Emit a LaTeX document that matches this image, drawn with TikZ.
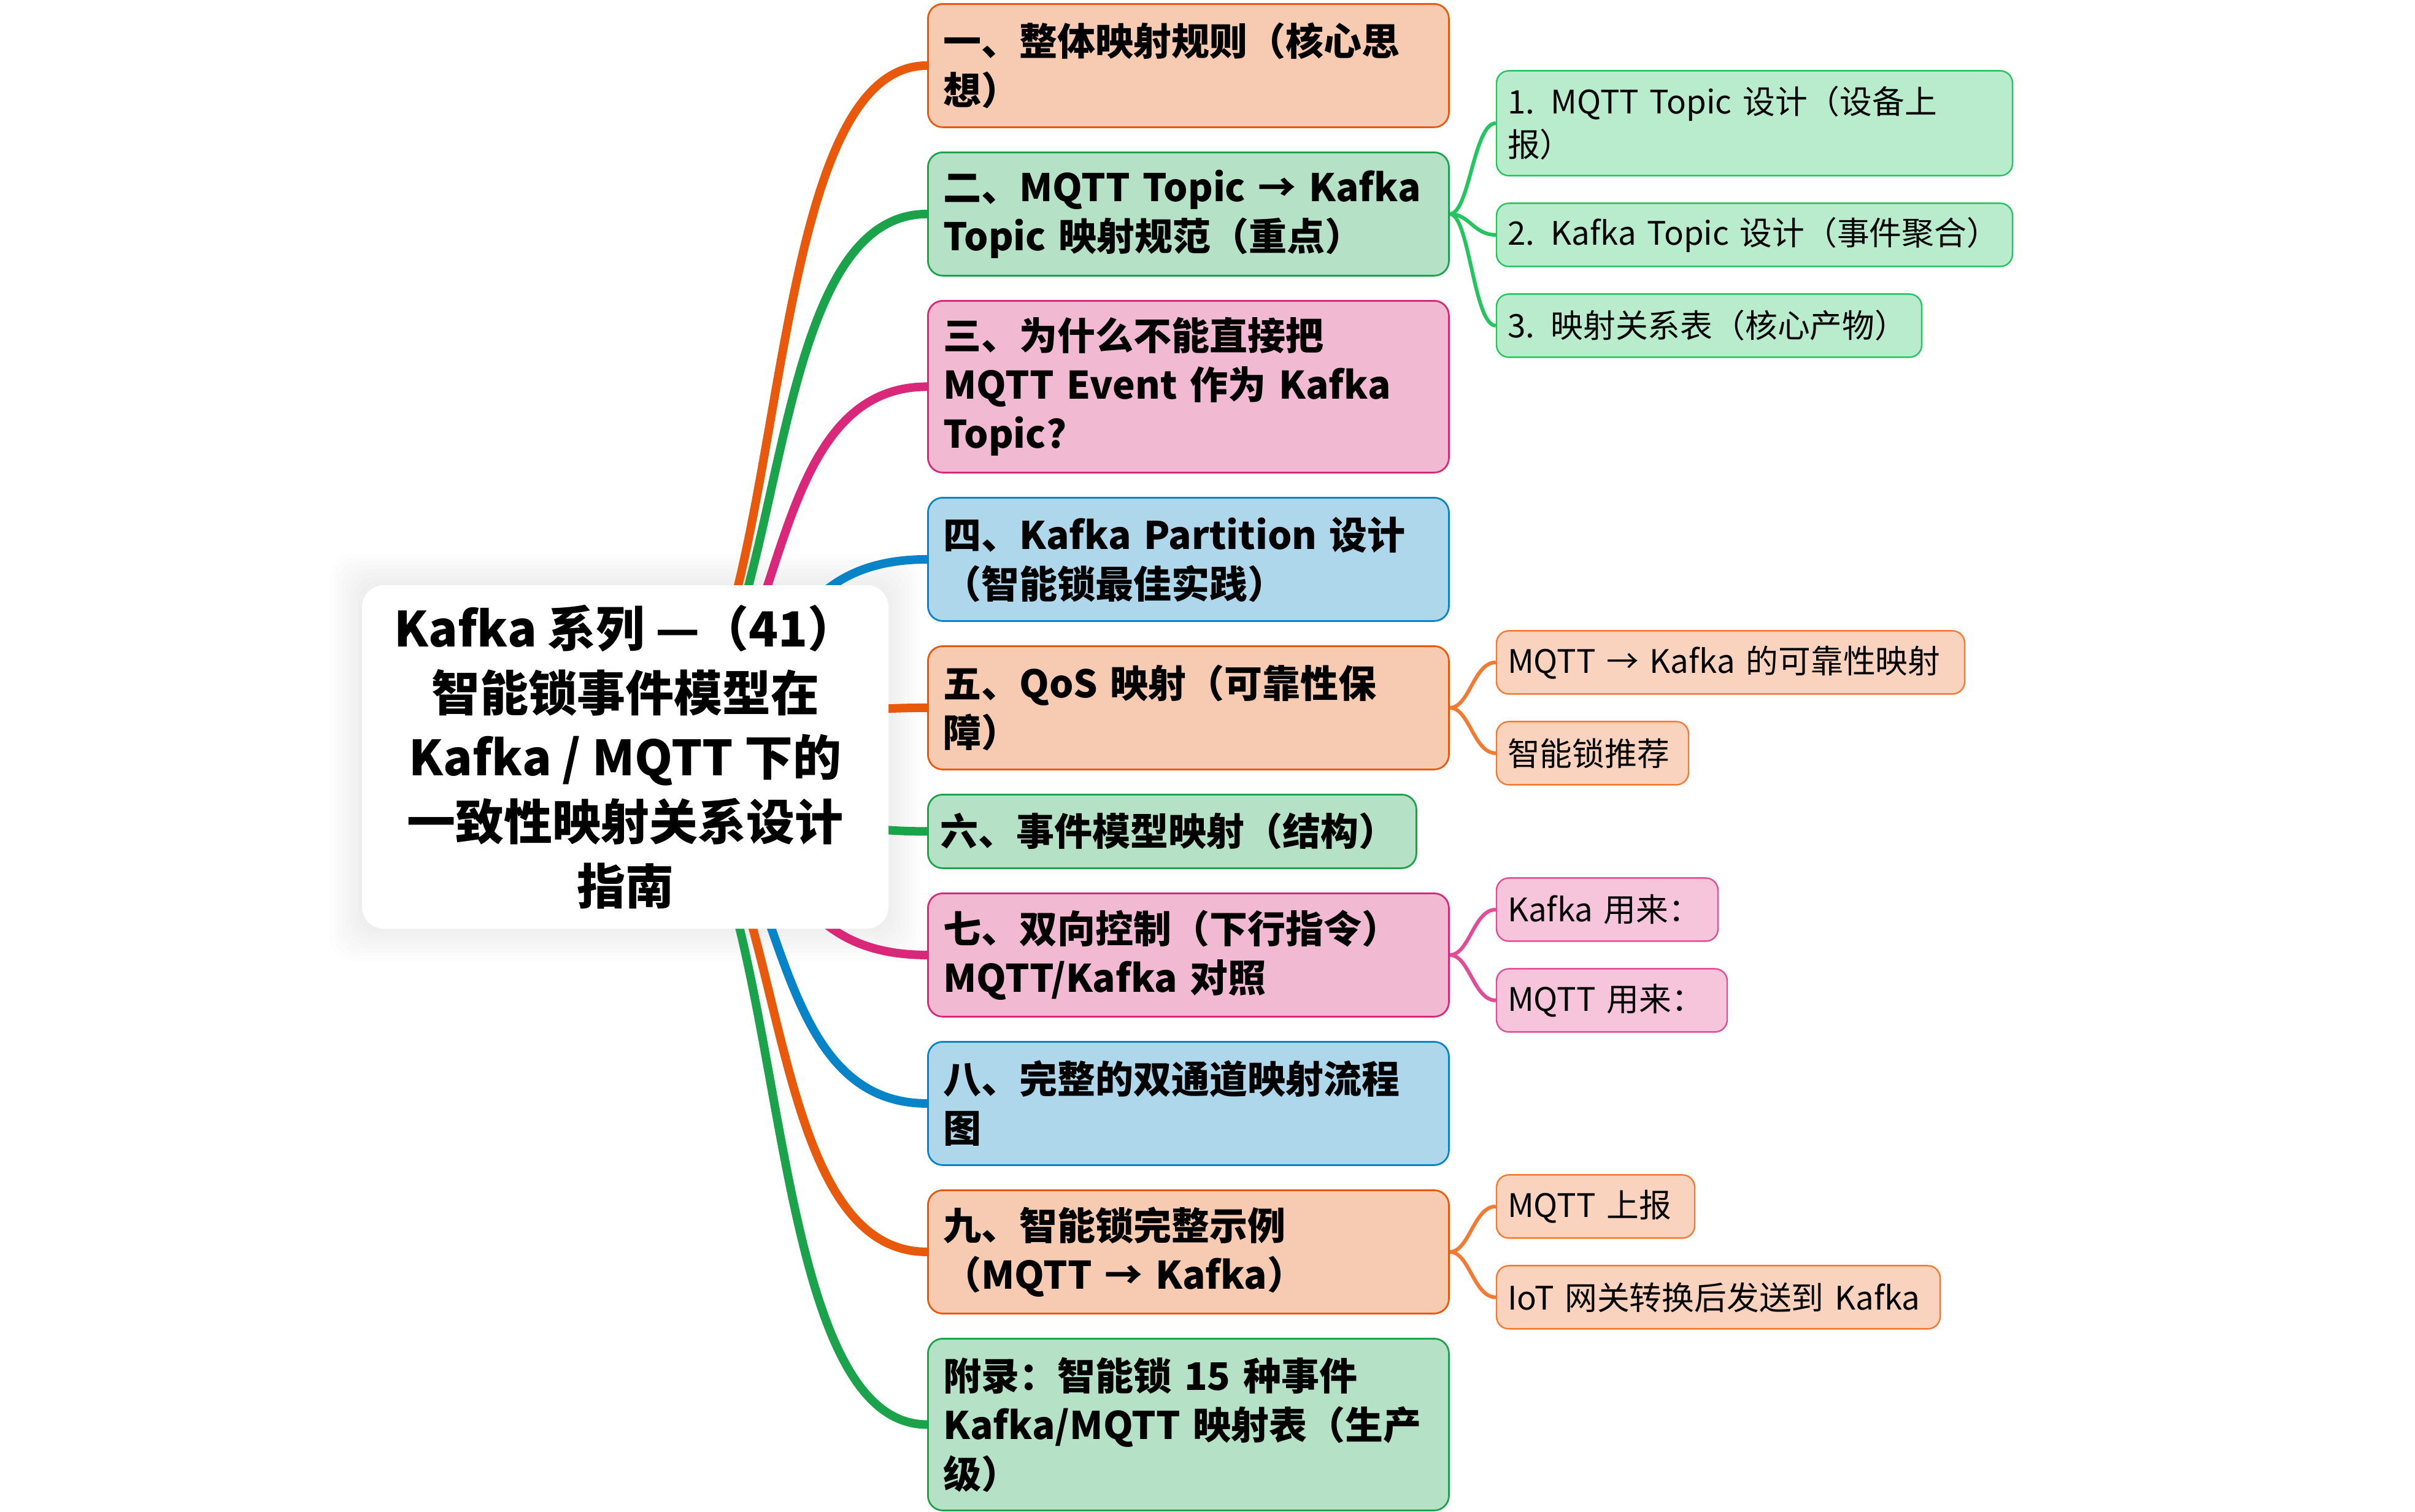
\documentclass[tikz,border=0pt]{standalone}
\usepackage{fontspec}
\newfontfamily\cjk{Noto Sans CJK SC}
\usepackage{tikz}
\usetikzlibrary{positioning, backgrounds}

\definecolor{orLine}{HTML}{E8590C}
\definecolor{orFill}{HTML}{F7CBB1}
\definecolor{orSubLine}{HTML}{F47932}
\definecolor{orSubFill}{HTML}{FAD3BE}
\definecolor{grLine}{HTML}{1AA34A}
\definecolor{grFill}{HTML}{B5E2C6}
\definecolor{grSubLine}{HTML}{22C55E}
\definecolor{grSubFill}{HTML}{B8ECCC}
\definecolor{pkLine}{HTML}{D9287A}
\definecolor{pkFill}{HTML}{F2B9D3}
\definecolor{pkSubLine}{HTML}{E24C94}
\definecolor{pkSubFill}{HTML}{F6C5DB}
\definecolor{blLine}{HTML}{0784C8}
\definecolor{blFill}{HTML}{AFD7EC}

\newcommand{\topicfont}{\cjk\bfseries\fontsize{15.5pt}{20pt}\selectfont}
\newcommand{\subfont}{\cjk\fontsize{13.2pt}{17.5pt}\selectfont}
\newcommand{\rootfont}{\cjk\bfseries\fontsize{19.75pt}{26.25pt}\selectfont}

\begin{document}
\begin{tikzpicture}[
  node distance=9.55pt and 18.75pt,
  topic/.style={
    rectangle,
    draw,
    line width=0.7pt,
    rounded corners=6pt,
    text width=199.75pt,
    inner xsep=6.25pt,
    inner ysep=0pt,
    align=left,
    minimum height=50.25pt,
    font=\topicfont
  },
  sub/.style={
    rectangle,
    draw,
    line width=0.6pt,
    rounded corners=5pt,
    inner xsep=4.5pt,
    inner ysep=0pt,
    align=left,
    minimum height=25.75pt,
    font=\subfont
  },
  rootbox/.style={
    rectangle,
    fill=white,
    rounded corners=9pt,
    minimum width=214.5pt,
    minimum height=140pt,
    align=center,
    font=\rootfont
  },
  link/.style={line width=3.5pt},
  sublink/.style={line width=1.5pt}
]

  \useasboundingbox (0,0) rectangle (984pt,-616pt);

  % Nodes
  \node (root) [rootbox] at (254.75pt,-308.5pt)
    {Kafka 系列 —（41）\\智能锁事件模型在\\Kafka / MQTT 下的\\一致性映射关系设计\\指南};

  \node (b1) [topic, draw=orLine, fill=orFill, anchor=north west] at (377.75pt,-1.25pt)
    {一、整体映射规则（核心思\\想）};
  \node (b2) [topic, draw=grLine, fill=grFill, below=of b1.south west, anchor=north west]
    {二、MQTT Topic → Kafka\\Topic 映射规范（重点）};
  \node (b3) [topic, draw=pkLine, fill=pkFill, minimum height=70pt, below=of b2.south west, anchor=north west]
    {三、为什么不能直接把\\MQTT Event 作为 Kafka\\Topic?};
  \node (b4) [topic, draw=blLine, fill=blFill, below=of b3.south west, anchor=north west]
    {四、Kafka Partition 设计\\（智能锁最佳实践）};
  \node (b5) [topic, draw=orLine, fill=orFill, below=of b4.south west, anchor=north west]
    {五、QoS 映射（可靠性保\\障）};
  \node (b6) [topic, draw=grLine, fill=grFill, minimum height=30pt, text width=189pt, inner xsep=5pt, below=of b5.south west, anchor=north west]
    {六、事件模型映射（结构）};
  \node (b7) [topic, draw=pkLine, fill=pkFill, below=of b6.south west, anchor=north west]
    {七、双向控制（下行指令）\\MQTT/Kafka 对照};
  \node (b8) [topic, draw=blLine, fill=blFill, below=of b7.south west, anchor=north west]
    {八、完整的双通道映射流程\\图};
  \node (b9) [topic, draw=orLine, fill=orFill, below=of b8.south west, anchor=north west]
    {九、智能锁完整示例\\（MQTT → Kafka）};
  \node (b10) [topic, draw=grLine, fill=grFill, minimum height=70pt, below=of b9.south west, anchor=north west]
    {附录：智能锁 15 种事件\\Kafka/MQTT 映射表（生产\\级）};

  \node (s2b) [sub, draw=grSubLine, fill=grSubFill, text width=201.25pt, right=of b2, yshift=-8.5pt]
    {2. Kafka Topic 设计（事件聚合）};
  \node (s2a) [sub, draw=grSubLine, fill=grSubFill, text width=201.25pt, minimum height=42.75pt, above=10.65pt of s2b.north west, anchor=south west]
    {1. MQTT Topic 设计（设备上\\报）};
  \node (s2c) [sub, draw=grSubLine, fill=grSubFill, text width=164.25pt, below=10.65pt of s2b.south west, anchor=north west]
    {3. 映射关系表（核心产物）};

  \node (s5a) [sub, draw=orSubLine, fill=orSubFill, text width=181.75pt, right=of b5, yshift=18.5pt]
    {MQTT → Kafka 的可靠性映射};
  \node (s5b) [sub, draw=orSubLine, fill=orSubFill, text width=69.25pt, below=10.65pt of s5a.south west, anchor=north west]
    {智能锁推荐};

  \node (s7a) [sub, draw=pkSubLine, fill=pkSubFill, text width=81.25pt, right=of b7, yshift=18.5pt]
    {Kafka 用来：};
  \node (s7b) [sub, draw=pkSubLine, fill=pkSubFill, text width=85pt, below=10.65pt of s7a.south west, anchor=north west]
    {MQTT 用来：};

  \node (s9a) [sub, draw=orSubLine, fill=orSubFill, text width=71.75pt, right=of b9, yshift=18.5pt]
    {MQTT 上报};
  \node (s9b) [sub, draw=orSubLine, fill=orSubFill, text width=171.75pt, below=10.65pt of s9a.south west, anchor=north west]
    {IoT 网关转换后发送到 Kafka};

  \begin{scope}[on background layer]
    % soft shadow under the title
    \foreach \d in {1,...,8}
      \fill[black, opacity=0.006, rounded corners=9pt]
        ([shift={(-\d*1.6pt,\d*1.6pt)}]root.north west) rectangle ([shift={(\d*1.6pt,-\d*1.6pt)}]root.south east);

    % Branches
    \draw [link, orLine] (root.center) .. controls +(71.5pt,0) and +(-76pt,0) .. (b1.west);
    \draw [link, grLine] (root.center) .. controls +(71.5pt,0) and +(-76pt,0) .. (b2.west);
    \draw [link, pkLine] (root.center) .. controls +(71.5pt,0) and +(-76pt,0) .. (b3.west);
    \draw [link, blLine] (root.center) .. controls +(71.5pt,0) and +(-76pt,0) .. (b4.west);
    \draw [link, orLine] (root.center) .. controls +(71.5pt,0) and +(-76pt,0) .. (b5.west);
    \draw [link, grLine] (root.center) .. controls +(71.5pt,0) and +(-76pt,0) .. (b6.west);
    \draw [link, pkLine] (root.center) .. controls +(71.5pt,0) and +(-76pt,0) .. (b7.west);
    \draw [link, blLine] (root.center) .. controls +(71.5pt,0) and +(-76pt,0) .. (b8.west);
    \draw [link, orLine] (root.center) .. controls +(71.5pt,0) and +(-76pt,0) .. (b9.west);
    \draw [link, grLine] (root.center) .. controls +(71.5pt,0) and +(-76pt,0) .. (b10.west);

    \draw [sublink, grSubLine] (b2.east) .. controls +(8pt,0) and +(-9pt,0) .. (s2a.west);
    \draw [sublink, grSubLine] (b2.east) .. controls +(8pt,0) and +(-9pt,0) .. (s2b.west);
    \draw [sublink, grSubLine] (b2.east) .. controls +(8pt,0) and +(-9pt,0) .. (s2c.west);
    \draw [sublink, orSubLine] (b5.east) .. controls +(8pt,0) and +(-9pt,0) .. (s5a.west);
    \draw [sublink, orSubLine] (b5.east) .. controls +(8pt,0) and +(-9pt,0) .. (s5b.west);
    \draw [sublink, pkSubLine] (b7.east) .. controls +(8pt,0) and +(-9pt,0) .. (s7a.west);
    \draw [sublink, pkSubLine] (b7.east) .. controls +(8pt,0) and +(-9pt,0) .. (s7b.west);
    \draw [sublink, orSubLine] (b9.east) .. controls +(8pt,0) and +(-9pt,0) .. (s9a.west);
    \draw [sublink, orSubLine] (b9.east) .. controls +(8pt,0) and +(-9pt,0) .. (s9b.west);
  \end{scope}

\end{tikzpicture}
\end{document}
